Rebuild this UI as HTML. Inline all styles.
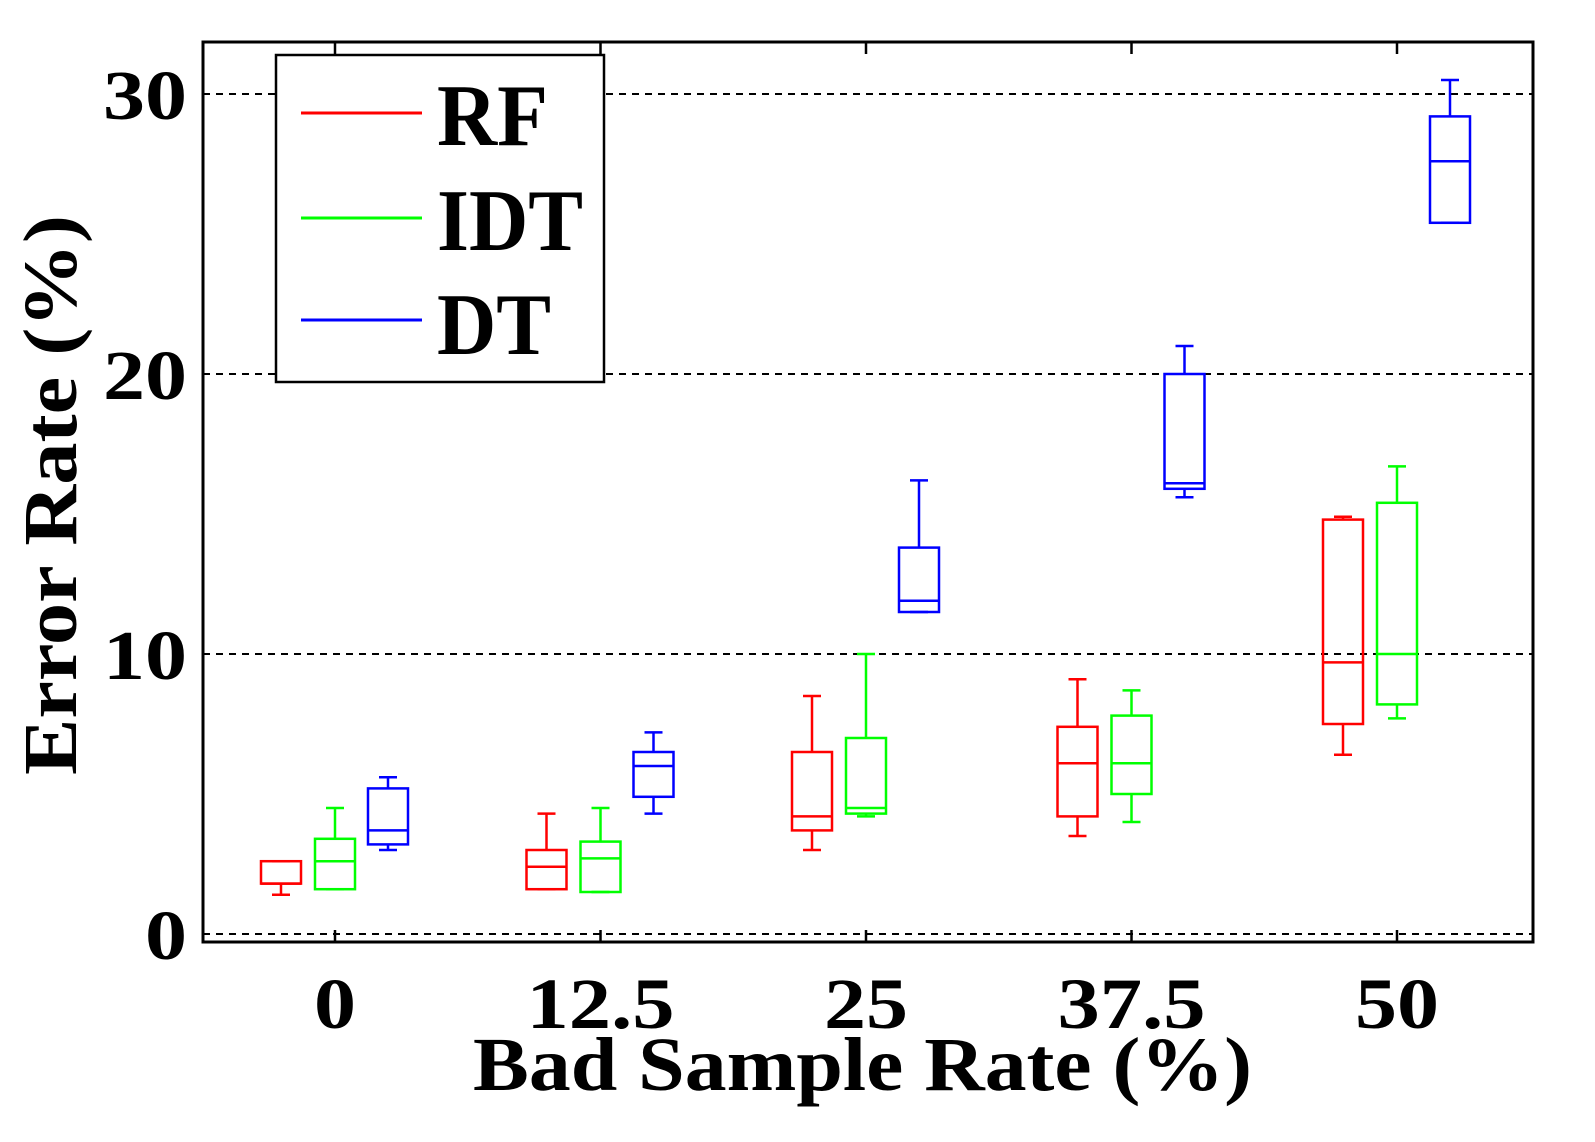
<!DOCTYPE html>
<html><head><meta charset="utf-8"><style>
html,body{margin:0;padding:0;background:#fff;}
svg{display:block;}
text{font-family:"Liberation Serif",serif;font-weight:bold;fill:#000;}
</style></head><body>
<svg id="chart" width="1595" height="1142" viewBox="0 0 1595 1142" xmlns="http://www.w3.org/2000/svg">
<g id="grid"></g>
<g id="boxes"></g>
<rect x="203" y="42" width="1330" height="900" fill="none" stroke="#000" stroke-width="3"/>
<g id="axes"></g>
<text x="473" y="1090" font-size="76" textLength="779" lengthAdjust="spacingAndGlyphs">Bad Sample Rate (%)</text>
<text transform="translate(76,775) rotate(-90)" font-size="76" textLength="560" lengthAdjust="spacingAndGlyphs">Error Rate (%)</text>
<g>
<rect x="276" y="55" width="328" height="327" fill="#fff" stroke="#000" stroke-width="2.5"/>
<line x1="301" y1="113" x2="422" y2="113" stroke="#f00" stroke-width="3"/>
<text x="437" y="145" font-size="88" textLength="111" lengthAdjust="spacingAndGlyphs">RF</text>
<line x1="301" y1="218" x2="422" y2="218" stroke="#0f0" stroke-width="3"/>
<text x="437" y="250" font-size="88" textLength="146" lengthAdjust="spacingAndGlyphs">IDT</text>
<line x1="301" y1="320" x2="422" y2="320" stroke="#00f" stroke-width="3"/>
<text x="437" y="354" font-size="88" textLength="114" lengthAdjust="spacingAndGlyphs">DT</text>
</g>
</svg>
<script>
const categories = ["0","12.5","25","37.5","50"];
const yTicks = [0,10,20,30];
const seriesNames = ["RF","IDT","DT"];
const seriesColors = ["#f00","#0f0","#00f"];
// per series: [min, q1, median, q3, max] per category
const rfStats = [[1.4,1.8,1.8,2.6,2.6],[1.6,1.6,2.4,3.0,4.3],[3.0,3.7,4.2,6.5,8.5],[3.5,4.2,6.1,7.4,9.1],[6.4,7.5,9.7,14.8,14.9]];
const idtStats = [[1.6,1.6,2.6,3.4,4.5],[1.5,1.5,2.7,3.3,4.5],[4.2,4.3,4.5,7.0,10.0],[4.0,5.0,6.1,7.8,8.7],[7.7,8.2,10.0,15.4,16.7]];
const dtStats = [[3.0,3.2,3.7,5.2,5.6],[4.3,4.9,6.0,6.5,7.2],[11.5,11.5,11.9,13.8,16.2],[15.6,15.9,16.1,20.0,21.0],[25.4,25.4,27.6,29.2,30.5]];
const allStats = [rfStats, idtStats, dtStats];

const NS = "http://www.w3.org/2000/svg";
const yScale = v => 934 - v * 28.0;
const xScale = i => 335 + i * 265.5;
const offsets = [-54, 0, 53];
function mk(tag, attrs, parent){ const e=document.createElementNS(NS,tag); for(const k in attrs) e.setAttribute(k,attrs[k]); parent.appendChild(e); return e; }
const grid=document.getElementById('grid'), axes=document.getElementById('axes'), boxes=document.getElementById('boxes');
yTicks.forEach(v=>{
  const l=mk('line',{x1:203,x2:1533,y1:yScale(v),y2:yScale(v),stroke:'#000','stroke-width':2,'stroke-dasharray':'7,6'},grid);
  
  
  const s=String(v);
  const t=mk('text',{x:187,y:yScale(v)+25,'font-size':70,'text-anchor':'end',textLength:42*s.length,lengthAdjust:'spacingAndGlyphs'},axes);
  t.textContent=s;
  
  
});
categories.forEach((c,i)=>{
  const x=xScale(i);
  const tb=mk('line',{x1:x,x2:x,y1:942,y2:930,stroke:'#000','stroke-width':2.5},axes);
  
  
  const tt=mk('line',{x1:x,x2:x,y1:42,y2:54,stroke:'#000','stroke-width':2.5},axes);
  
  
  const digits=c.replace('.','').length, dots=c.length-digits;
  const t=mk('text',{x:x,y:1028,'font-size':72,'text-anchor':'middle',textLength:42*digits+22*dots,lengthAdjust:'spacingAndGlyphs'},axes);
  t.textContent=c;
  
  
});
allStats.forEach((stats,s)=>{
  stats.forEach((d,i)=>{
    const cx=xScale(i)+offsets[s], col=seriesColors[s], w=20, cw=9;
    const g=mk('g',{stroke:col,'stroke-width':2.5,fill:'none'},boxes);
    
    
    mk('line',{x1:cx,x2:cx,y1:yScale(d[3]),y2:yScale(d[4])},g);
    mk('line',{x1:cx,x2:cx,y1:yScale(d[1]),y2:yScale(d[0])},g);
    mk('line',{x1:cx-cw,x2:cx+cw,y1:yScale(d[4]),y2:yScale(d[4])},g);
    mk('line',{x1:cx-cw,x2:cx+cw,y1:yScale(d[0]),y2:yScale(d[0])},g);
    mk('rect',{x:cx-w,y:yScale(d[3]),width:2*w,height:yScale(d[1])-yScale(d[3])},g);
    mk('line',{x1:cx-w,x2:cx+w,y1:yScale(d[2]),y2:yScale(d[2])},g);
  });
});
</script>
</body></html>
